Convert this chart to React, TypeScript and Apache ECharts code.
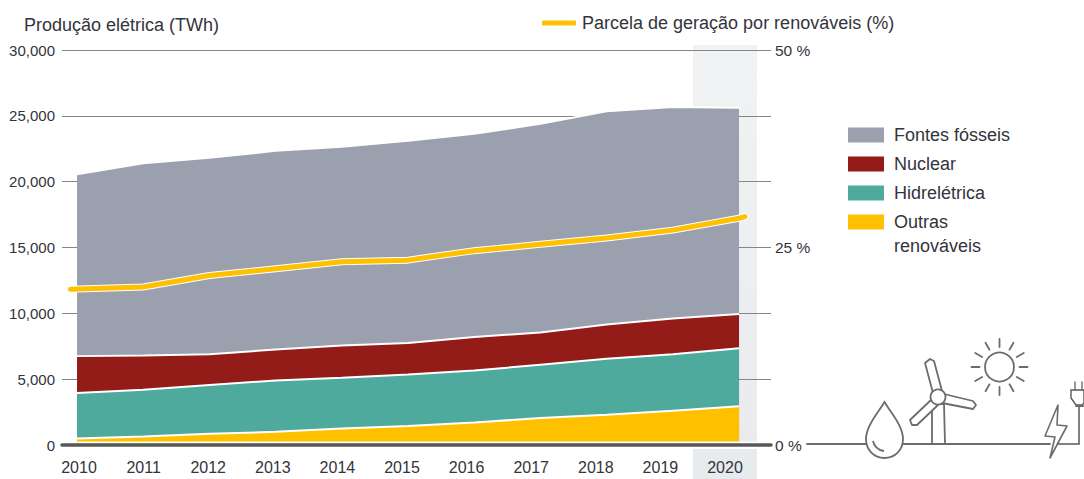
import React, { useEffect, useRef } from "react";
import * as echarts from "echarts";

const yearLabels = ["2010", "2011", "2012", "2013", "2014", "2015", "2016", "2017", "2018", "2019", "2020"];
const years = [2010, 2011, 2012, 2013, 2014, 2015, 2016, 2017, 2018, 2019, 2020];
const outras = [500, 650, 850, 1000, 1250, 1450, 1700, 2050, 2300, 2600, 2950];
const hidro = [3450, 3550, 3700, 3900, 3850, 3900, 3950, 4050, 4250, 4300, 4400];
const nuclear = [2800, 2600, 2350, 2350, 2450, 2400, 2550, 2450, 2600, 2700, 2600];
const fosseis = [13820, 14600, 14910, 15090, 15100, 15350, 15430, 15840, 16200, 16080, 15670];
const shareYears = [2009.9, 2011, 2012, 2013, 2014, 2015, 2016, 2017, 2018, 2019, 2020, 2020.09];
const share = [19.7, 20, 21.45, 22.3, 23.2, 23.4, 24.6, 25.4, 26.2, 27.2, 28.7, 28.9];
const rightLabels = [0, 25, 50];

const NAME_FOSSIL = "Fontes fósseis";
const NAME_NUCLEAR = "Nuclear";
const NAME_HIDRO = "Hidrelétrica";
const NAME_OUTRAS = "Outras renováveis";
const NAME_SHARE = "Parcela de geração por renováveis (%)";

const FONT = "Liberation Sans";
const TEXT = "#33343c";
const ICON = "#6a6c70";

echarts.graphic.registerShape(
  "gotaIcon",
  echarts.graphic.extendPath(
    "M884.5 402C878 413 866 426 866 439C866 450 874 458 884.5 458C895 458 903 450 903 439C903 426 891 413 884.5 402ZM873 441C874 446 878 450 884 451",
    {}
  ) as any
);

function iconLine(x1: number, y1: number, x2: number, y2: number, width = 1.8) {
  return {
    type: "line",
    z: 6,
    silent: true,
    shape: { x1, y1, x2, y2 },
    style: { stroke: ICON, lineWidth: width, lineCap: "round" },
  };
}

function blade(points: number[][]) {
  return {
    type: "polygon",
    z: 6,
    silent: true,
    shape: { points },
    style: { fill: "#fff", stroke: ICON, lineWidth: 1.8, lineJoin: "round" },
  };
}

function sunRays() {
  const rays: any[] = [];
  for (let i = 0; i < 12; i++) {
    const a = (i * Math.PI) / 6;
    rays.push(
      iconLine(
        999.5 + 20 * Math.cos(a),
        367 + 20 * Math.sin(a),
        999.5 + 28 * Math.cos(a),
        367 + 28 * Math.sin(a)
      )
    );
  }
  return rays;
}

const cumulative = (...layers: number[][]) =>
  years.map((y, i) => [y, layers.reduce((sum, l) => sum + l[i], 0)]);

const areaSeries = (name: string, data: number[][], color: string) => ({
  name,
  type: "line",
  xAxisIndex: 0,
  yAxisIndex: 0,
  data,
  showSymbol: false,
  symbol: "none",
  itemStyle: { color },
  lineStyle: { color: "#ffffff", width: 2 },
  areaStyle: { color, opacity: 1 },
  z: 2,
});

export default function App() {
  const ref = useRef<HTMLDivElement>(null);
  useEffect(() => {
    const chart = echarts.init(ref.current!, null, { renderer: "svg" });
    const shareData = shareYears.map((y, i) => [y, share[i]]);
    chart.setOption({
      animation: false,
      backgroundColor: "#ffffff",
      textStyle: { fontFamily: FONT },
      grid: [
        { left: 62, width: 709, top: 50, height: 395 },
        { left: 46.7, width: 710.6, top: 50, height: 395 },
      ],
      xAxis: [
        {
          type: "value",
          gridIndex: 0,
          min: 2009.773,
          max: 2020.483,
          axisLabel: { show: false },
          axisTick: { show: false },
          splitLine: { show: false },
          axisLine: { show: true, onZero: false, lineStyle: { color: "#58585a", width: 3.5 } },
          z: 5,
        },
        {
          type: "category",
          gridIndex: 1,
          data: yearLabels,
          boundaryGap: true,
          axisLine: { show: false },
          axisTick: { show: false },
          splitLine: { show: false },
          axisLabel: {
            interval: 0,
            fontFamily: FONT,
            fontSize: 16,
            color: TEXT,
            margin: 14,
          },
        },
      ],
      yAxis: [
        {
          type: "value",
          gridIndex: 0,
          min: 0,
          max: 30000,
          interval: 5000,
          axisLine: { show: false },
          axisTick: { show: false },
          splitLine: { show: true, lineStyle: { color: "#85868a", width: 1 } },
          axisLabel: {
            margin: 7,
            fontFamily: FONT,
            fontSize: 15,
            color: TEXT,
            formatter: (v: number) => v.toLocaleString("en-US"),
          },
        },
        {
          type: "value",
          gridIndex: 0,
          position: "right",
          min: 0,
          max: 50,
          axisLine: { show: false },
          axisTick: { show: false },
          splitLine: { show: false },
          axisLabel: {
            customValues: rightLabels,
            margin: 4,
            fontFamily: FONT,
            fontSize: 15.5,
            color: TEXT,
            formatter: (v: number) => `${v} %`,
          },
        },
        {
          type: "value",
          gridIndex: 1,
          show: false,
        },
      ],
      legend: [
        {
          orient: "vertical",
          left: 848,
          top: 126,
          padding: 0,
          itemWidth: 36,
          itemHeight: 15,
          itemGap: 11,
          icon: "rect",
          selectedMode: false,
          data: [NAME_FOSSIL, NAME_NUCLEAR, NAME_HIDRO, NAME_OUTRAS],
          formatter: (n: string) => (n === NAME_OUTRAS ? "Outras" : n),
          textStyle: {
            fontFamily: FONT,
            fontSize: 18,
            color: TEXT,
            padding: [0, 0, 0, 5],
            height: 18,
            lineHeight: 18,
          },
        },
        {
          orient: "horizontal",
          left: 542,
          top: 14,
          padding: 0,
          itemWidth: 34,
          itemHeight: 5,
          icon: "roundRect",
          selectedMode: false,
          data: [NAME_SHARE],
          textStyle: {
            fontFamily: FONT,
            fontSize: 18,
            color: TEXT,
            padding: [0, 0, 0, 1],
          },
        },
      ],
      series: [
        areaSeries(NAME_FOSSIL, cumulative(outras, hidro, nuclear, fosseis), "#9ba0ae"),
        areaSeries(NAME_NUCLEAR, cumulative(outras, hidro, nuclear), "#931c18"),
        areaSeries(NAME_HIDRO, cumulative(outras, hidro), "#4faa9e"),
        areaSeries(NAME_OUTRAS, cumulative(outras), "#ffc000"),
        {
          name: "halo",
          type: "line",
          xAxisIndex: 0,
          yAxisIndex: 1,
          data: shareData,
          symbol: "none",
          lineStyle: { color: "#ffffff", width: 7, cap: "round" },
          z: 3,
        },
        {
          name: NAME_SHARE,
          type: "line",
          xAxisIndex: 0,
          yAxisIndex: 1,
          data: shareData,
          symbol: "none",
          itemStyle: { color: "#ffc000" },
          lineStyle: { color: "#ffc000", width: 5, cap: "round" },
          z: 4,
        },
      ],
      graphic: [
        {
          type: "rect",
          z: -1,
          silent: true,
          shape: { x: 693, y: 45, width: 64, height: 397 },
          style: {
            fill: new echarts.graphic.LinearGradient(0, 0, 0, 1, [
              { offset: 0, color: "#f1f2f4" },
              { offset: 1, color: "#e9ebee" },
            ]),
          },
        },
        { type: "rect", z: -1, silent: true, shape: { x: 693, y: 449, width: 64, height: 30 }, style: { fill: "#e8ebee" } },
        { type: "rect", z: 3, silent: true, shape: { x: 62, y: 441.6, width: 709, height: 2 }, style: { fill: "#ffffff" } },
        { type: "text", z: 6, silent: true, style: { text: "Produção elétrica (TWh)", x: 24, y: 16, fontFamily: FONT, fontSize: 18, fill: TEXT } },
        { type: "text", z: 6, silent: true, style: { text: "renováveis", x: 894, y: 237, fontFamily: FONT, fontSize: 18, fill: TEXT } },
        iconLine(807, 444, 866, 444),
        iconLine(903, 444, 1050, 444),
        { type: "gotaIcon", z: 6, silent: true, style: { fill: "#fff", stroke: ICON, lineWidth: 1.8 } },
        blade([[932, 404], [944, 404], [945, 444], [932, 444]]),
        blade([[925, 363], [930, 359], [934, 361], [942, 391], [933, 393]]),
        blade([[944, 394], [973, 401], [976, 405], [973, 409], [942, 403]]),
        blade([[932, 399], [938, 405], [917, 425], [912, 425], [910, 420]]),
        { type: "circle", z: 6, silent: true, shape: { cx: 938, cy: 397, r: 7.5 }, style: { fill: "#fff", stroke: ICON, lineWidth: 1.8 } },
        { type: "circle", z: 6, silent: true, shape: { cx: 999.5, cy: 367, r: 14.5 }, style: { fill: "#fff", stroke: ICON, lineWidth: 1.8 } },
        ...sunRays(),
        {
          type: "polygon",
          z: 6,
          silent: true,
          shape: { points: [[1058, 405], [1045, 436], [1055, 437], [1050, 458], [1067, 426], [1057, 425]] },
          style: { fill: "#fff", stroke: ICON, lineWidth: 1.6, lineJoin: "round" },
        },
        {
          type: "polyline",
          z: 6,
          silent: true,
          shape: { points: [[1058, 444], [1079, 444], [1079, 406]] },
          style: { stroke: "#55585e", fill: "none", lineWidth: 1.5 },
        },
        {
          type: "polygon",
          z: 6,
          silent: true,
          shape: { points: [[1071, 390], [1084, 390], [1084, 403], [1082, 405], [1076, 405], [1071, 398]] },
          style: { fill: "#fff", stroke: "#55585e", lineWidth: 1.4 },
        },
        iconLine(1075, 382, 1075, 390, 1.4),
        iconLine(1082, 382, 1082, 390, 1.4),
        iconLine(1076, 406, 1083, 406, 2),
      ],
    });
    return () => chart.dispose();
  }, []);
  return (
    <div
      ref={ref}
      style={{ position: "fixed", left: 0, top: 0, width: 1084, height: 479 }}
    />
  );
}
